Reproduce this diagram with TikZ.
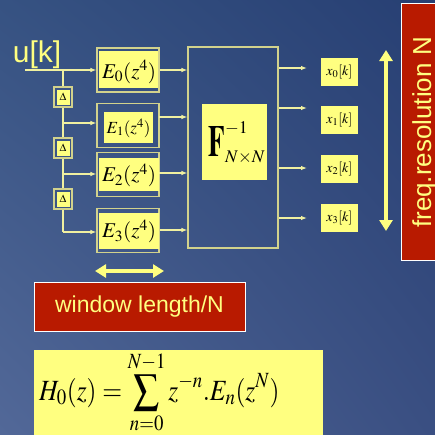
\documentclass[tikz,border=0pt]{standalone}
\usepackage{mathptmx}
\usepackage{graphicx}
\usepackage[no-math]{fontspec}
\setsansfont{Liberation Sans}
\usetikzlibrary{arrows.meta,calc,shadings}
\definecolor{bgUL}{HTML}{365282}
\definecolor{bgUR}{HTML}{273F73}
\definecolor{bgLL}{HTML}{526898}
\definecolor{bgLR}{HTML}{3A4F82}
\definecolor{bgmid}{HTML}{3C5585}
\definecolor{yel}{HTML}{FFFF80}
\definecolor{framecol}{HTML}{D2D28C}
\definecolor{linecol}{HTML}{F0F0A0}
\definecolor{redbox}{HTML}{B81A00}
\tikzset{
  frame/.style={draw=framecol, line width=1.1pt, inner sep=0pt},
  conn/.style={draw=linecol, line width=1.1pt},
  arr/.style={conn, -{Latex[length=6pt,width=4.5pt]}},
  bigarr/.style={draw=yel, line width=3.6pt, {Triangle[length=11pt,width=13pt]}-{Triangle[length=11pt,width=13pt]}},
  dframe/.style={frame, fill=bgmid, minimum width=18pt, minimum height=20pt},
  dfill/.style={fill=yel, inner sep=0pt, minimum width=13pt, minimum height=15pt, font=\fontsize{11}{11}\selectfont},
  eframe/.style={frame, minimum width=62pt, minimum height=44pt},
  etext/.style={inner sep=0pt, font=\fontsize{21}{21}\selectfont},
  xbox/.style={fill=yel, inner sep=0pt, minimum width=37pt, minimum height=28pt, font=\fontsize{14}{14}\selectfont},
  redlabel/.style={fill=redbox, draw=white, line width=0.8pt, inner sep=0pt},
  redtext/.style={text=yel, inner sep=0pt, font=\sffamily},
}
\begin{document}
\begin{tikzpicture}[x=1pt,y=-1pt]
\useasboundingbox (0,0) rectangle (435,434);
\clip (0,0) rectangle (435,434);
\shade[upper left=bgUL, upper right=bgUR, lower left=bgLL, lower right=bgLR] (0,0) rectangle (435,434);

% input
\node[inner sep=0pt, text=yel, font=\sffamily\fontsize{30}{30}\selectfont] (uk) at (37,55) {u[k]};
\coordinate (uin) at (25,70);
\coordinate (b0) at (63,70);
\coordinate (b1) at (63,123);
\coordinate (b2) at (63,174);
\coordinate (b3) at (63,232);

% E frames
\node[eframe] (e0) at (128,70) {};
\node[eframe] (e1) at (128,125.5) {};
\node[eframe] (e2) at (128,174.5) {};
\node[eframe] (e3) at (128,230.5) {};
\fill[yel] (98.5,51) rectangle (157.5,88);
\fill[yel] (104,112) rectangle (153,143);
\fill[yel] (98.5,158) rectangle (158.5,191);
\fill[yel] (98.5,213) rectangle (158.5,249);
\node[etext] (t0) at (129,72) {$E_0(z^4)$};
\node[etext, font=\fontsize{17}{17}\selectfont] (t1) at (128.5,128) {$E_1(z^4)$};
\node[etext] (t2) at (129,175.5) {$E_2(z^4)$};
\node[etext] (t3) at (129,231.5) {$E_3(z^4)$};

% input lines
\draw[arr] (uin) -- (e0.west);
\draw[conn] (b0) -- (b3);
\draw[arr] (b1) -- (e1.west |- b1);
\draw[arr] (b2) -- (e2.west |- b2);
\draw[arr] (b3) -- (e3.west |- b3);

% delay boxes
\node[dframe] (d1) at (63,97) {};
\node[dfill] (dd1) at (d1) {$\Delta$};
\node[dframe] (d2) at (63,148) {};
\node[dfill] (dd2) at (d2) {$\Delta$};
\node[dframe] (d3) at (63,199) {};
\node[dfill] (dd3) at (d3) {$\Delta$};

% IDFT block
\node[frame, minimum width=90pt, minimum height=201pt] (F) at (233,147.5) {};
\node[fill=yel, inner sep=0pt, minimum width=65pt, minimum height=76pt] (Ff) at (234.5,142) {};
\node[inner sep=0pt, font=\fontsize{24}{24}\selectfont] (Ft) at (237,143) {${\scalebox{1.12}[1.85]{$\mathbf{F}$}}^{-1}_{N\times N}$};

\draw[arr] (e0.east) -- (F.west |- e0.east);
\coordinate (o1) at (159,117);
\draw[arr] (o1) -- (F.west |- o1);
\coordinate (o2) at (159,173);
\draw[arr] (o2) -- (F.west |- o2);
\draw[arr] (e3.east |- 0,230) -- (F.west |- 0,230);

% outputs
\node[xbox] (x0) at (339.5,72) {$x_0[k]$};
\node[xbox] (x1) at (339.5,120) {$x_1[k]$};
\node[xbox] (x2) at (339.5,169) {$x_2[k]$};
\node[xbox] (x3) at (339.5,218) {$x_3[k]$};
\coordinate (y0) at (307,68);
\coordinate (y1) at (307,108);
\coordinate (y2) at (307,168);
\coordinate (y3) at (307,218);
\draw[arr] (F.east |- y0) -- (y0);
\draw[arr] (F.east |- y1) -- (y1);
\draw[arr] (F.east |- y2) -- (y2);
\draw[arr] (F.east |- y3) -- (y3);

% frequency resolution
\coordinate (fa) at (386,50);
\coordinate (fb) at (386,231);
\draw[bigarr] (fa) -- (fb);
\node[redlabel, minimum width=56pt, minimum height=257pt] (fr) at (429,131.5) {};
\node[redtext, rotate=90, font=\sffamily\fontsize{26}{26}\selectfont] (frt) at (424.5,132.5) {freq.resolution N};

% window length
\coordinate (wa) at (95,271);
\coordinate (wb) at (164,271);
\draw[bigarr] (wa) -- (wb);
\node[redlabel, minimum width=211pt, minimum height=49pt] (wl) at (139.5,306.5) {};
\node[redtext, font=\sffamily\fontsize{23}{23}\selectfont] (wlt) at (wl) {window length/N};

% formula
\node[fill=yel, inner sep=0pt, minimum width=289pt, minimum height=100pt] (hb) at (178.5,400) {};
\node[inner sep=0pt, anchor=base west, font=\fontsize{25.5}{25.5}\selectfont] (hf) at (39,400) {\scalebox{1}[1.15]{$\displaystyle H_0(z)=\sum_{n=0}^{N-1} z^{-n}.E_n(z^N)$}};
\end{tikzpicture}
\end{document}
